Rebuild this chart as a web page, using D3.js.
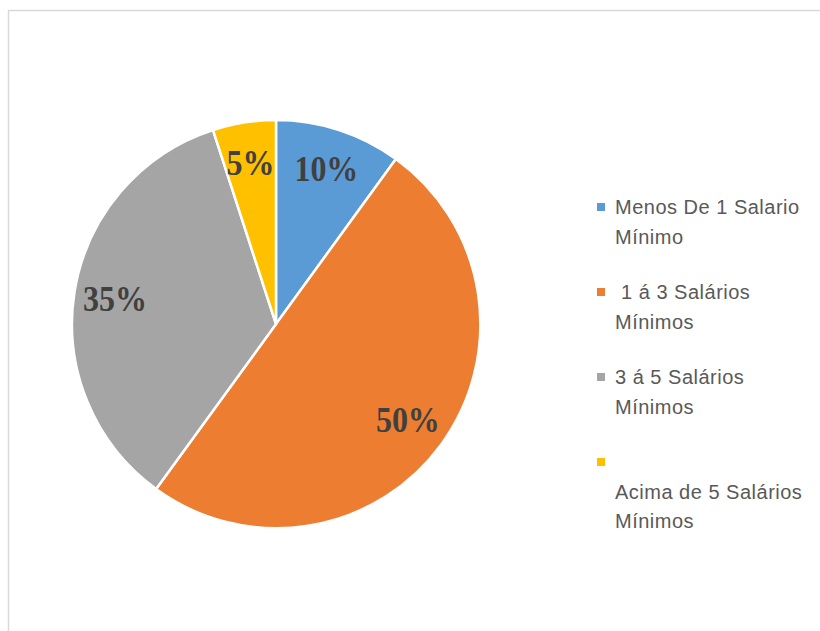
<!DOCTYPE html>
<html>
<head>
<meta charset="utf-8">
<script src="https://cdn.jsdelivr.net/npm/d3@7"></script>
<style>
  html, body { margin: 0; padding: 0; background: #fff; }
  svg { display: block; }
</style>
</head>
<body>
<svg id="chart" width="820" height="631"></svg>
<script>
// Data
const categories = ["Menos De 1 Salario Mínimo", " 1 á 3 Salários Mínimos", "3 á 5 Salários Mínimos", "Acima de 5 Salários Mínimos"];
const legendLines = [["Menos De 1 Salario", "Mínimo"], [" 1 á 3 Salários", "Mínimos"], ["3 á 5 Salários", "Mínimos"], ["", "Acima de 5 Salários", "Mínimos"]];
const values = [10, 50, 35, 5];
const labels = ["10%", "50%", "35%", "5%"];
const colors = ["#5B9BD5", "#ED7D31", "#A5A5A5", "#FFC000"];

const svg = d3.select("#chart");

// chart border
svg.append("rect")
  .attr("x", 8.5).attr("y", 10.5)
  .attr("width", 900).attr("height", 700)
  .attr("fill", "#fff")
  .attr("stroke", "#d9d9d9")
  .attr("stroke-width", 1.5);

const cx = 276, cy = 324, R = 204;
const pie = d3.pie().sort(null).value(d => d)(values);
const arc = d3.arc().innerRadius(0).outerRadius(R);
const labelArc = d3.arc().innerRadius(163).outerRadius(163);

const g = svg.append("g").attr("transform", `translate(${cx},${cy})`);
g.selectAll("path.slice").data(pie).enter().append("path")
  .attr("class", "slice")
  .attr("d", arc)
  .attr("fill", (d, i) => colors[i])
  .attr("stroke", "#fff")
  .attr("stroke-width", 2.5)
  .attr("stroke-linejoin", "round");

g.selectAll("text.lbl").data(pie).enter().append("text")
  .attr("class", "lbl")
  .attr("transform", d => `translate(${labelArc.centroid(d)}) scale(1,1.1)`)
  .attr("text-anchor", "middle")
  .attr("dy", "0.35em")
  .attr("font-family", "'Liberation Serif', 'Times New Roman', serif")
  .attr("font-weight", "bold")
  .attr("font-size", 32)
  .attr("fill", "#404040")
  .text((d, i) => labels[i]);

// Legend
const legX = 597, legY0 = 207, entryStep = 85, lineH = 29.5, textX = 615;
const leg = svg.append("g");
categories.forEach((c, i) => {
  const y = legY0 + i * entryStep;
  leg.append("rect")
    .attr("x", legX).attr("y", y - 4)
    .attr("width", 8).attr("height", 8)
    .attr("fill", colors[i]);
  const t = leg.append("text")
    .attr("x", textX).attr("y", y + 7)
    .attr("font-family", "'Liberation Sans', Arial, sans-serif")
    .attr("font-size", 20)
    .attr("letter-spacing", 0.5)
    .attr("fill", "#595959")
    .attr("xml:space", "preserve")
    .style("white-space", "pre");
  legendLines[i].forEach((ln, j) => {
    t.append("tspan").attr("x", textX).attr("y", y + 7 + j * lineH).text(ln);
  });
});
</script>
</body>
</html>
